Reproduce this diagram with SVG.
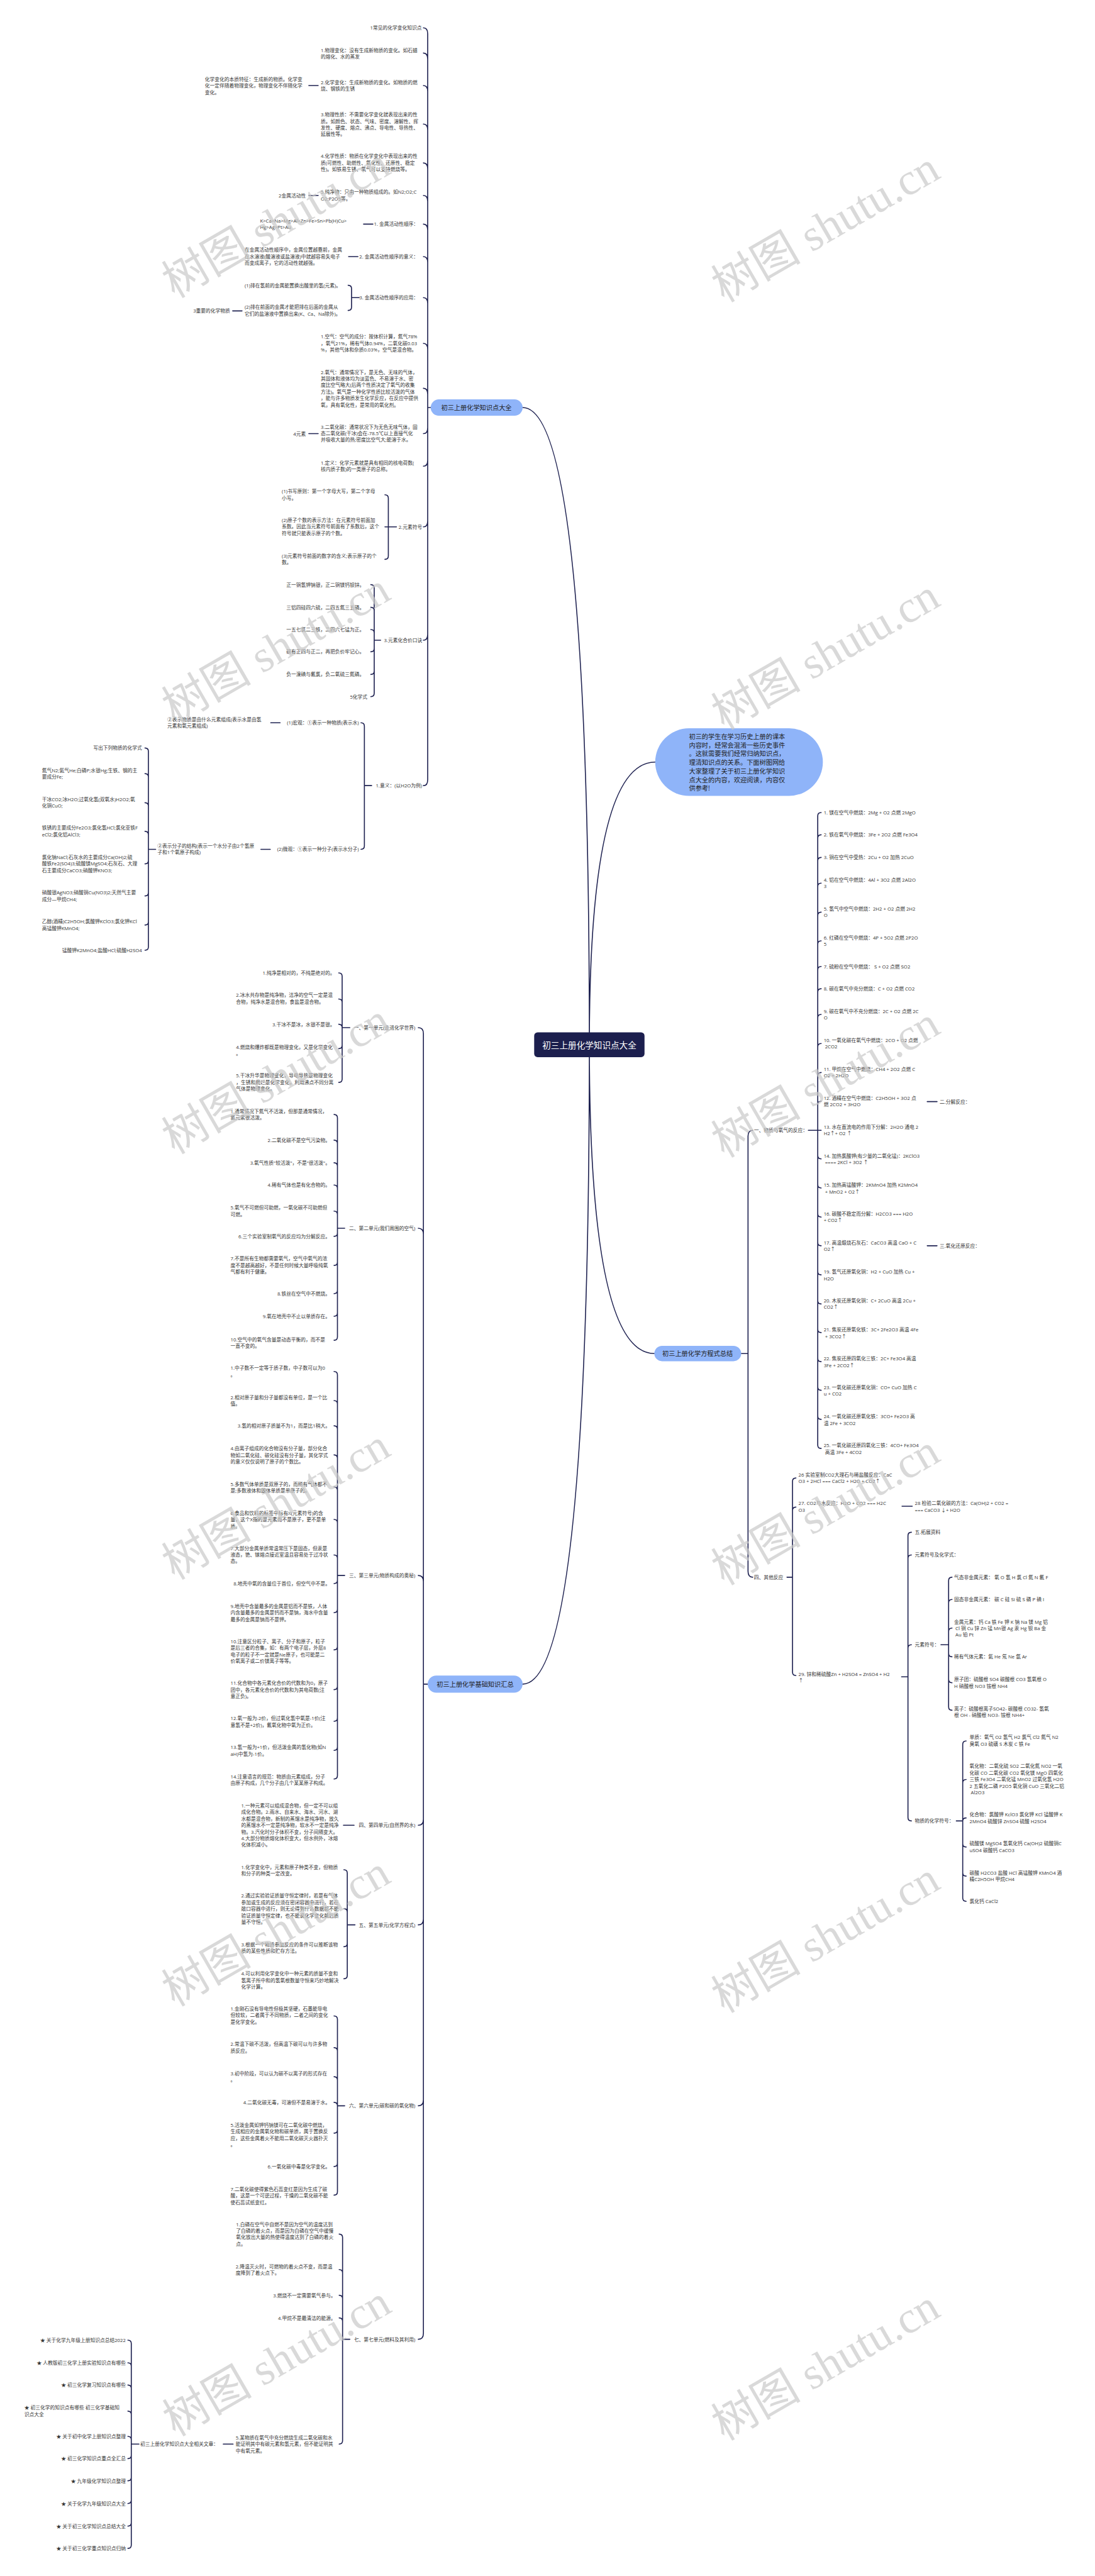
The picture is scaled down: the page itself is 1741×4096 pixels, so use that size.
<svg xmlns="http://www.w3.org/2000/svg" width="1741" height="4096" viewBox="0 0 1741 4096">
<style>
.t{font-family:"Open Sans","Noto Sans CJK SC",sans-serif;font-size:11.4px;fill:#333333;dominant-baseline:central}
.e{text-anchor:end}
.c{fill:none;stroke:#1f2251;stroke-width:2.4;stroke-linecap:round;stroke-linejoin:round}
.bn{fill:#8fb4f9}
.bt{font-family:"Open Sans","Noto Sans CJK SC",sans-serif;font-size:15px;fill:#222222;dominant-baseline:central;text-anchor:middle}
.it{font-family:"Open Sans","Noto Sans CJK SC",sans-serif;font-size:15px;fill:#222222;dominant-baseline:central}
.wm{font-family:"Liberation Serif","Noto Sans CJK SC",serif;font-size:105px;fill:#c9c9c9;fill-opacity:0.7;text-anchor:middle;dominant-baseline:central}
</style>
<g transform="scale(0.68)">
<rect x="0" y="0" width="2560" height="6023" fill="#ffffff"/>
<g id="connectors">
<path class="c" d="M1378 2443Q1378 953 1222 953M1378 2443Q1378 3938 1222 3938M1378 2443Q1378 1782 1532 1782M1378 2443Q1378 3165 1530 3165"/>
<path class="c" d="M1007 953H1000V79Q1000 65 990 65M1000 953V138Q1000 124 990 124M1000 953V214Q1000 200 990 200M1000 953V304Q1000 290 990 290M1000 953V395Q1000 381 990 381M1000 953V471Q1000 457 990 457M1000 953V538Q1000 524 990 524M1000 953V614Q1000 600 990 600M1000 953V710Q1000 696 990 696M1000 953V817Q1000 803 990 803M1000 953V922Q1000 908 990 908M1000 953V1000Q1000 1014 990 1014M1000 953V1076Q1000 1090 990 1090M1000 953V1218Q1000 1232 990 1232M1000 953V1483Q1000 1497 990 1497M1000 953V1823Q1000 1837 990 1837"/>
<path class="c" d="M1000 3938H990V2417Q990 2403 978 2403M990 3938V2886Q990 2872 978 2872M990 3938V3698Q990 3684 978 3684M990 3938V4254Q990 4268 978 4268M990 3938V4487Q990 4501 978 4501M990 3938V4910Q990 4924 978 4924M990 3938V5456Q990 5470 978 5470"/>
<path class="c" d="M1733 3165H1749V2657Q1749 2643 1760 2643M1749 3165V3674Q1749 3688 1760 3688"/>
<path class="c" d="M744 200H722M744 457H722M872 524H850M837 600H815M566 727H544M744 1014H722M655 1690H633M632 1986H610M828 4268H803M545 5715H522M2168 2576H2191M2168 2913H2191M2109 3522H2133"/>
<path class="c" d="M840 696H822V675Q822 667 814 667M840 696H822V718Q822 726 814 726"/>
<path class="c" d="M927 1232H908V1165Q908 1157 900 1157M927 1232H900M927 1232H908V1300Q908 1308 900 1308"/>
<path class="c" d="M890 1497H875V1375Q875 1367 867 1367M875 1497V1428Q875 1420 867 1420M875 1497V1480Q875 1472 867 1472M875 1497V1516Q875 1524 867 1524M875 1497V1569Q875 1577 867 1577M875 1497V1621Q875 1629 867 1629"/>
<path class="c" d="M869 1837H852V1698Q852 1690 844 1690M852 1837V1978Q852 1986 844 1986"/>
<path class="c" d="M364 1986H347V1757Q347 1749 339 1749M347 1986V1817Q347 1809 339 1809M347 1986V1885Q347 1877 339 1877M347 1986V1952Q347 1944 339 1944M347 1986V2012Q347 2020 339 2020M347 1986V2087Q347 2095 339 2095M347 1986V2155Q347 2163 339 2163M347 1986V2214Q347 2222 339 2222"/>
<path class="c" d="M818 2403H800V2283Q800 2275 792 2275M800 2403V2344Q800 2336 792 2336M800 2403Q800 2395 792 2395M800 2403V2444Q800 2452 792 2452M800 2403V2523Q800 2531 792 2531"/>
<path class="c" d="M806 2872H789V2614Q789 2606 781 2606M789 2872V2674Q789 2666 781 2666M789 2872V2727Q789 2719 781 2719M789 2872V2779Q789 2771 781 2771M789 2872V2840Q789 2832 781 2832M789 2872V2883Q789 2891 781 2891M789 2872V2951Q789 2959 781 2959M789 2872V3017Q789 3025 781 3025M789 2872V3070Q789 3078 781 3078M789 2872V3126Q789 3134 781 3134"/>
<path class="c" d="M806 3684H789V3215Q789 3207 781 3207M789 3684V3283Q789 3275 781 3275M789 3684V3342Q789 3334 781 3334M789 3684V3410Q789 3402 781 3402M789 3684V3485Q789 3477 781 3477M789 3684V3561Q789 3553 781 3553M789 3684V3644Q789 3636 781 3636M789 3684V3695Q789 3703 781 3703M789 3684V3763Q789 3771 781 3771M789 3684V3850Q789 3858 781 3858M789 3684V3943Q789 3951 781 3951M789 3684V4017Q789 4025 781 4025M789 3684V4085Q789 4093 781 4093M789 3684V4152Q789 4160 781 4160"/>
<path class="c" d="M830 4501H812V4380Q812 4372 804 4372M812 4501V4471Q812 4463 804 4463M812 4501V4544Q812 4552 804 4552M812 4501V4619Q812 4627 804 4627"/>
<path class="c" d="M806 4924H789V4722Q789 4714 781 4714M789 4924V4796Q789 4788 781 4788M789 4924V4864Q789 4856 781 4856M789 4924Q789 4916 781 4916M789 4924V4980Q789 4988 781 4988M789 4924V5058Q789 5066 781 5066M789 4924V5125Q789 5133 781 5133"/>
<path class="c" d="M818 5470H801V5232Q801 5224 793 5224M801 5470V5315Q801 5307 793 5307M801 5470V5375Q801 5367 793 5367M801 5470V5428Q801 5420 793 5420M801 5470V5707Q801 5715 793 5715"/>
<path class="c" d="M325 5715H307V5480Q307 5472 299 5472M307 5715V5533Q307 5525 299 5525M307 5715V5585Q307 5577 299 5577M307 5715V5646Q307 5638 299 5638M307 5715V5705Q307 5697 299 5697M307 5715V5741Q307 5749 299 5749M307 5715V5793Q307 5801 299 5801M307 5715V5846Q307 5854 299 5854M307 5715V5899Q307 5907 299 5907M307 5715V5951Q307 5959 299 5959"/>
<path class="c" d="M1890 2643H1912V1908Q1912 1900 1920 1900M1912 2643V1960Q1912 1952 1920 1952M1912 2643V2013Q1912 2005 1920 2005M1912 2643V2073Q1912 2065 1920 2065M1912 2643V2141Q1912 2133 1920 2133M1912 2643V2208Q1912 2200 1920 2200M1912 2643V2268Q1912 2260 1920 2260M1912 2643V2320Q1912 2312 1920 2312M1912 2643V2380Q1912 2372 1920 2372M1912 2643V2448Q1912 2440 1920 2440M1912 2643V2516Q1912 2508 1920 2508M1912 2643V2583Q1912 2575 1920 2575M1912 2643H1920M1912 2643V2702Q1912 2710 1920 2710M1912 2643V2770Q1912 2778 1920 2778M1912 2643V2838Q1912 2846 1920 2846M1912 2643V2905Q1912 2913 1920 2913M1912 2643V2973Q1912 2981 1920 2981M1912 2643V3041Q1912 3049 1920 3049M1912 2643V3108Q1912 3116 1920 3116M1912 2643V3176Q1912 3184 1920 3184M1912 2643V3243Q1912 3251 1920 3251M1912 2643V3311Q1912 3319 1920 3319M1912 2643V3379Q1912 3387 1920 3387"/>
<path class="c" d="M1840 3688H1853V3464Q1853 3456 1861 3456M1853 3688V3532Q1853 3524 1861 3524M1853 3688V3910Q1853 3918 1861 3918"/>
<path class="c" d="M2108 3921H2123V3591Q2123 3583 2131 3583M2123 3921V3644Q2123 3636 2131 3636M2123 3921V3854Q2123 3846 2131 3846M2123 3921V4250Q2123 4258 2131 4258"/>
<path class="c" d="M2200 3846H2218V3696Q2218 3688 2226 3688M2218 3846V3748Q2218 3740 2226 3740M2218 3846V3815Q2218 3807 2226 3807M2218 3846V3866Q2218 3874 2226 3874M2218 3846V3927Q2218 3935 2226 3935M2218 3846V3991Q2218 3999 2226 3999"/>
<path class="c" d="M2236 4258H2251V4079Q2251 4071 2259 4071M2251 4258V4169Q2251 4161 2259 4161M2251 4258Q2251 4251 2259 4251M2251 4258V4311Q2251 4319 2259 4319M2251 4258V4379Q2251 4387 2259 4387M2251 4258V4438Q2251 4446 2259 4446"/>
</g>
<g id="root"><rect x="1249" y="2414" width="258" height="58" rx="8" fill="#1c1f4e"/><text x="1378" y="2443" class="bt" style="fill:#ffffff;font-size:20px">初三上册化学知识点大全</text></g>
<g id="intro"><rect x="1532" y="1703" width="392" height="158" rx="79" class="bn"/>
<text class="it" x="1611" y="1722"><tspan x="1611" dy="0">初三的学生在学习历史上册的课本</tspan><tspan x="1611" dy="20.2">内容时，经常会混淆一些历史事件</tspan><tspan x="1611" dy="20.2">。这就需要我们经常归纳知识点，</tspan><tspan x="1611" dy="20.2">理清知识点的关系。下面树图网给</tspan><tspan x="1611" dy="20.2">大家整理了关于初三上册化学知识</tspan><tspan x="1611" dy="20.2">点大全的内容，欢迎阅读，内容仅</tspan><tspan x="1611" dy="20.2">供参考!</tspan></text></g>
<g id="branch1"><rect x="1007" y="934" width="215" height="38" rx="19" class="bn"/><text x="1114" y="953" class="bt">初三上册化学知识点大全</text></g>
<g id="branch2"><rect x="1530" y="3147" width="203" height="36" rx="18" class="bn"/><text x="1631" y="3165" class="bt">初三上册化学方程式总结</text></g>
<g id="branch3"><rect x="1000" y="3918" width="222" height="40" rx="20" class="bn"/><text x="1111" y="3938" class="bt">初三上册化学基础知识汇总</text></g>
<g id="k1"><text class="t e" x="986" y="65">1常见的化学变化知识点</text></g>
<g id="k2"><text class="t" x="750" y="117"><tspan x="750" dy="0">1.物理变化：没有生成新物质的变化。如石蜡</tspan><tspan x="750" dy="15.3">的熔化、水的蒸发</tspan></text></g>
<g id="k3"><text class="t" x="750" y="192"><tspan x="750" dy="0">2.化学变化：生成新物质的变化。如物质的燃</tspan><tspan x="750" dy="15.3">烧、钢铁的生锈</tspan></text></g>
<g id="k3a"><text class="t" x="479" y="185"><tspan x="479" dy="0">化学变化的本质特征：生成新的物质。化学变</tspan><tspan x="479" dy="15.3">化一定伴随着物理变化，物理变化不伴随化学</tspan><tspan x="479" dy="15.3">变化。</tspan></text></g>
<g id="k4"><text class="t" x="750" y="268"><tspan x="750" dy="0">3.物理性质：不需要化学变化就表现出来的性</tspan><tspan x="750" dy="15.3">质。如颜色、状态、气味、密度、溶解性、挥</tspan><tspan x="750" dy="15.3">发性、硬度、熔点、沸点、导电性、导热性、</tspan><tspan x="750" dy="15.3">延展性等。</tspan></text></g>
<g id="k5"><text class="t" x="750" y="365"><tspan x="750" dy="0">4.化学性质：物质在化学变化中表现出来的性</tspan><tspan x="750" dy="15.3">质(可燃性、助燃性、氧化性、还原性、稳定</tspan><tspan x="750" dy="15.3">性)。如铁易生锈、氧气可以支持燃烧等。</tspan></text></g>
<g id="k6"><text class="t" x="750" y="449"><tspan x="750" dy="0">5.纯净物：只由一种物质组成的。如N2;O2;C</tspan><tspan x="750" dy="15.3">O2;P2O5等。</tspan></text></g>
<g id="k6a"><text class="t e" x="715" y="457">2金属活动性</text></g>
<g id="k7"><text class="t e" x="978" y="524">1. 金属活动性顺序：</text></g>
<g id="k7a"><text class="t" x="608" y="516"><tspan x="608" dy="0">K&gt;Ca&gt;Na&gt;Mg&gt;Al&gt;Zn&gt;Fe&gt;Sn&gt;Pb(H)Cu&gt;</tspan><tspan x="608" dy="15.3">Hg&gt;Ag&gt;Pt&gt;Au</tspan></text></g>
<g id="k8"><text class="t e" x="978" y="600">2. 金属活动性顺序的意义：</text></g>
<g id="k8a"><text class="t" x="572" y="584"><tspan x="572" dy="0">在金属活动性顺序中，金属位置越靠前，金属</tspan><tspan x="572" dy="15.3">在水溶液(酸溶液或盐溶液)中就越容易失电子</tspan><tspan x="572" dy="15.3">而变成离子，它的活动性就越强。</tspan></text></g>
<g id="k9"><text class="t e" x="978" y="696">3. 金属活动性顺序的应用：</text></g>
<g id="k9a"><text class="t" x="572" y="667">(1)排在氢前的金属能置换出酸里的氢(元素)。</text></g>
<g id="k9b"><text class="t" x="572" y="718"><tspan x="572" dy="0">(2)排在前面的金属才能把排在后面的金属从</tspan><tspan x="572" dy="15.3">它们的盐溶液中置换出来(K、Ca、Na除外)。</tspan></text></g>
<g id="k9c"><text class="t e" x="538" y="727">3重要的化学物质</text></g>
<g id="k10"><text class="t" x="750" y="787"><tspan x="750" dy="0">1.空气：空气的成分：按体积计算，氮气78%</tspan><tspan x="750" dy="15.3">，氧气21%，稀有气体0.94%，二氧化碳0.03</tspan><tspan x="750" dy="15.3">%，其他气体和杂质0.03%，空气是混合物。</tspan></text></g>
<g id="k11"><text class="t" x="750" y="870"><tspan x="750" dy="0">2.氧气：通常情况下，是无色、无味的气体，</tspan><tspan x="750" dy="15.3">其固体和液体均为淡蓝色、不易溶于水、密</tspan><tspan x="750" dy="15.3">度比空气略大(后两个性质决定了氧气的收集</tspan><tspan x="750" dy="15.3">方法)。氧气是一种化学性质比较活泼的气体</tspan><tspan x="750" dy="15.3">，能与许多物质发生化学反应，在反应中提供</tspan><tspan x="750" dy="15.3">氧，具有氧化性，是常用的氧化剂。</tspan></text></g>
<g id="k12"><text class="t" x="750" y="998"><tspan x="750" dy="0">3.二氧化碳：通常状况下为无色无味气体，固</tspan><tspan x="750" dy="15.3">态二氧化碳(干冰)会在-78.5℃以上直接气化</tspan><tspan x="750" dy="15.3">并吸收大量的热;密度比空气大;能溶于水。</tspan></text></g>
<g id="k12a"><text class="t e" x="715" y="1014">4元素</text></g>
<g id="k13"><text class="t" x="750" y="1082"><tspan x="750" dy="0">1.定义：化学元素就是具有相同的核电荷数(</tspan><tspan x="750" dy="15.3">核内质子数)的一类原子的总称。</tspan></text></g>
<g id="k14"><text class="t e" x="987" y="1232">2.元素符号</text></g>
<g id="k14a"><text class="t" x="659" y="1149"><tspan x="659" dy="0">(1)书写原则：第一个字母大写，第二个字母</tspan><tspan x="659" dy="15.3">小写。</tspan></text></g>
<g id="k14b"><text class="t" x="659" y="1216"><tspan x="659" dy="0">(2)原子个数的表示方法：在元素符号前面加</tspan><tspan x="659" dy="15.3">系数。因此当元素符号前面有了系数后，这个</tspan><tspan x="659" dy="15.3">符号就只能表示原子的个数。</tspan></text></g>
<g id="k14c"><text class="t" x="659" y="1300"><tspan x="659" dy="0">(3)元素符号前面的数字的含义;表示原子的个</tspan><tspan x="659" dy="15.3">数。</tspan></text></g>
<g id="k15"><text class="t e" x="987" y="1497">3.元素化合价口诀</text></g>
<g id="k15a"><text class="t e" x="852" y="1367">正一铜氢钾钠银，正二铜镁钙钡锌。</text></g>
<g id="k15b"><text class="t e" x="852" y="1420">三铝四硅四六硫，二四五氮三五磷。</text></g>
<g id="k15c"><text class="t e" x="852" y="1472">一五七氯二三铁，二四六七锰为正。</text></g>
<g id="k15d"><text class="t e" x="852" y="1524">碳有正四与正二，再把负价牢记心。</text></g>
<g id="k15e"><text class="t e" x="852" y="1577">负一溴碘与氟氯，负二氧硫三氮磷。</text></g>
<g id="k15f"><text class="t e" x="859" y="1629">5化学式</text></g>
<g id="k16"><text class="t e" x="987" y="1837">1.意义：(以H2O为例)</text></g>
<g id="k16a"><text class="t e" x="839" y="1690">(1)宏观：①表示一种物质(表示水)</text></g>
<g id="k16b"><text class="t" x="391" y="1682"><tspan x="391" dy="0">②表示物质是由什么元素组成(表示水是由氢</tspan><tspan x="391" dy="15.3">元素和氧元素组成)</tspan></text></g>
<g id="k16c"><text class="t e" x="839" y="1986">(2)微观：①表示一种分子(表示水分子)</text></g>
<g id="k16d"><text class="t" x="368" y="1978"><tspan x="368" dy="0">②表示分子的结构(表示一个水分子由2个氢原</tspan><tspan x="368" dy="15.3">子和1个氧原子构成)</tspan></text></g>
<g id="f1"><text class="t e" x="332" y="1749">写出下列物质的化学式</text></g>
<g id="f2"><text class="t" x="98" y="1801"><tspan x="98" dy="0">氮气N2;氦气He;白磷P;水银Hg;生铁、钢的主</tspan><tspan x="98" dy="15.3">要成分Fe;</tspan></text></g>
<g id="f3"><text class="t" x="98" y="1869"><tspan x="98" dy="0">干冰CO2;冰H2O;过氧化氢(双氧水)H2O2;氧</tspan><tspan x="98" dy="15.3">化铜CuO;</tspan></text></g>
<g id="f4"><text class="t" x="98" y="1936"><tspan x="98" dy="0">铁锈的主要成分Fe2O3;氯化氢HCl;氯化亚铁F</tspan><tspan x="98" dy="15.3">eCl2;氯化铝AlCl3;</tspan></text></g>
<g id="f5"><text class="t" x="98" y="2004"><tspan x="98" dy="0">氯化钠NaCl;石灰水的主要成分Ca(OH)2;硫</tspan><tspan x="98" dy="15.3">酸铁Fe2(SO4)3;硫酸镁MgSO4;石灰石、大理</tspan><tspan x="98" dy="15.3">石主要成分CaCO3;硝酸钾KNO3;</tspan></text></g>
<g id="f6"><text class="t" x="98" y="2087"><tspan x="98" dy="0">硝酸银AgNO3;硝酸铜Cu(NO3)2;天然气主要</tspan><tspan x="98" dy="15.3">成分—甲烷CH4;</tspan></text></g>
<g id="f7"><text class="t" x="98" y="2155"><tspan x="98" dy="0">乙醇(酒精)C2H5OH;氯酸钾KClO3;氯化钾KCl</tspan><tspan x="98" dy="15.3">高锰酸钾KMnO4;</tspan></text></g>
<g id="f8"><text class="t e" x="332" y="2222">锰酸钾K2MnO4;盐酸HCl;硫酸H2SO4</text></g>
<g id="u1"><text class="t e" x="971" y="2403">一、第一单元(走进化学世界)</text></g>
<g id="u1a"><text class="t e" x="783" y="2275">1.纯净是相对的，不纯是绝对的。</text></g>
<g id="u1b"><text class="t" x="552" y="2327"><tspan x="552" dy="0">2.冰水共存物是纯净物，洁净的空气一定是混</tspan><tspan x="552" dy="15.3">合物，纯净水是混合物，食盐是混合物。</tspan></text></g>
<g id="u1c"><text class="t e" x="783" y="2395">3.干冰不是冰，水银不是银。</text></g>
<g id="u1d"><text class="t" x="552" y="2448"><tspan x="552" dy="0">4.燃烧和爆炸都既是物理变化，又是化学变化</tspan><tspan x="552" dy="15.3">。</tspan></text></g>
<g id="u1e"><text class="t" x="552" y="2515"><tspan x="552" dy="0">5.干冰升华是物理变化，导电导热是物理变化</tspan><tspan x="552" dy="15.3">，生锈和腐烂是化学变化，利用沸点不同分离</tspan><tspan x="552" dy="15.3">气体是物理变化。</tspan></text></g>
<g id="u2"><text class="t e" x="971" y="2872">二、第二单元(我们周围的空气)</text></g>
<g id="u2a"><text class="t" x="539" y="2598"><tspan x="539" dy="0">1.通常情况下氮气不活泼，但那是通常情况，</tspan><tspan x="539" dy="15.3">氮元素很活泼。</tspan></text></g>
<g id="u2b"><text class="t e" x="772" y="2666">2.二氧化碳不是空气污染物。</text></g>
<g id="u2c"><text class="t e" x="772" y="2719">3.氧气性质"较活泼"，不是"很活泼"。</text></g>
<g id="u2d"><text class="t e" x="772" y="2771">4.稀有气体也是有化合物的。</text></g>
<g id="u2e"><text class="t" x="539" y="2824"><tspan x="539" dy="0">5.氧气不可燃但可助燃，一氧化碳不可助燃但</tspan><tspan x="539" dy="15.3">可燃。</tspan></text></g>
<g id="u2f"><text class="t e" x="772" y="2891">6.三个实验室制氧气的反应均为分解反应。</text></g>
<g id="u2g"><text class="t" x="539" y="2943"><tspan x="539" dy="0">7.不是所有生物都需要氧气，空气中氧气的浓</tspan><tspan x="539" dy="15.3">度不是越高越好，不是任何时候大量呼吸纯氧</tspan><tspan x="539" dy="15.3">气都有利于健康。</tspan></text></g>
<g id="u2h"><text class="t e" x="772" y="3025">8.铁丝在空气中不燃烧。</text></g>
<g id="u2i"><text class="t e" x="772" y="3078">9.氧在地壳中不止以单质存在。</text></g>
<g id="u2j"><text class="t" x="539" y="3132"><tspan x="539" dy="0">10.空气中的氧气含量是动态平衡的，而不是</tspan><tspan x="539" dy="15.3">一直不变的。</tspan></text></g>
<g id="u3"><text class="t e" x="971" y="3684">三、第三单元(物质构成的奥秘)</text></g>
<g id="u3a"><text class="t" x="539" y="3199"><tspan x="539" dy="0">1.中子数不一定等于质子数，中子数可以为0</tspan><tspan x="539" dy="15.3">。</tspan></text></g>
<g id="u3b"><text class="t" x="539" y="3267"><tspan x="539" dy="0">2.相对原子量和分子量都没有单位，是一个比</tspan><tspan x="539" dy="15.3">值。</tspan></text></g>
<g id="u3c"><text class="t e" x="772" y="3334">3.氢的相对原子质量不为1，而是比1稍大。</text></g>
<g id="u3d"><text class="t" x="539" y="3387"><tspan x="539" dy="0">4.由离子组成的化合物没有分子量，部分化合</tspan><tspan x="539" dy="15.3">物如二氧化硅、碳化硅没有分子量，其化学式</tspan><tspan x="539" dy="15.3">的意义仅仅说明了原子的个数比。</tspan></text></g>
<g id="u3e"><text class="t" x="539" y="3470"><tspan x="539" dy="0">5.多数气体单质是双原子的，而稀有气体都不</tspan><tspan x="539" dy="15.3">是;多数液体和固体单质是单原子的。</tspan></text></g>
<g id="u3f"><text class="t" x="539" y="3538"><tspan x="539" dy="0">6.食品和饮料的标签中标有X(元素符号)的含</tspan><tspan x="539" dy="15.3">量，这个X指的是元素而不是原子，更不是单</tspan><tspan x="539" dy="15.3">质。</tspan></text></g>
<g id="u3g"><text class="t" x="539" y="3620"><tspan x="539" dy="0">7.大部分金属单质常温常压下是固态，但汞是</tspan><tspan x="539" dy="15.3">液态，铯、镓熔点接近室温且容易处于过冷状</tspan><tspan x="539" dy="15.3">态。</tspan></text></g>
<g id="u3h"><text class="t e" x="772" y="3703">8.地壳中氧的含量位于首位，但空气中不是。</text></g>
<g id="u3i"><text class="t" x="539" y="3756"><tspan x="539" dy="0">9.地壳中含量最多的金属是铝而不是铁，人体</tspan><tspan x="539" dy="15.3">内含量最多的金属是钙而不是钠，海水中含量</tspan><tspan x="539" dy="15.3">最多的金属是钠而不是钾。</tspan></text></g>
<g id="u3j"><text class="t" x="539" y="3838"><tspan x="539" dy="0">10.注意区分粒子、离子、分子和原子，粒子</tspan><tspan x="539" dy="15.3">是后三者的合集，如：有两个电子层，外层8</tspan><tspan x="539" dy="15.3">电子的粒子不一定就是Ne原子，也可能是二</tspan><tspan x="539" dy="15.3">价氧离子或二价镁离子等等。</tspan></text></g>
<g id="u3k"><text class="t" x="539" y="3936"><tspan x="539" dy="0">11.化合物中各元素化合价的代数和为0，原子</tspan><tspan x="539" dy="15.3">团中，各元素化合价的代数和为其电荷数(注</tspan><tspan x="539" dy="15.3">意正负)。</tspan></text></g>
<g id="u3l"><text class="t" x="539" y="4018"><tspan x="539" dy="0">12.氧一般为-2价，但过氧化氢中氧是-1价(注</tspan><tspan x="539" dy="15.3">意氢不是+2价)，氟氧化物中氧为正价。</tspan></text></g>
<g id="u3m"><text class="t" x="539" y="4086"><tspan x="539" dy="0">13.氢一般为+1价，但活泼金属的氢化物(如N</tspan><tspan x="539" dy="15.3">aH)中氢为-1价。</tspan></text></g>
<g id="u3n"><text class="t" x="539" y="4154"><tspan x="539" dy="0">14.注意语言的规范：物质由元素组成，分子</tspan><tspan x="539" dy="15.3">由原子构成，几个分子由几个某某原子构成。</tspan></text></g>
<g id="u4"><text class="t e" x="971" y="4268">四、第四单元(自然界的水)</text></g>
<g id="u4a"><text class="t" x="564" y="4222"><tspan x="564" dy="0">1.一种元素可以组成混合物，但一定不可以组</tspan><tspan x="564" dy="15.3">成化合物。2.雨水、自来水、海水、河水、湖</tspan><tspan x="564" dy="15.3">水都是混合物，新制的蒸馏水是纯净物，放久</tspan><tspan x="564" dy="15.3">的蒸馏水不一定是纯净物，软水不一定是纯净</tspan><tspan x="564" dy="15.3">物。3.汽化时分子体积不变，分子间隔变大。</tspan><tspan x="564" dy="15.3">4.大部分物质熔化体积变大，但水例外，冰熔</tspan><tspan x="564" dy="15.3">化体积减小。</tspan></text></g>
<g id="u5"><text class="t e" x="971" y="4501">五、第五单元(化学方程式)</text></g>
<g id="u5a"><text class="t" x="564" y="4366"><tspan x="564" dy="0">1.化学变化中，元素和原子种类不变，但物质</tspan><tspan x="564" dy="15.3">和分子的种类一定改变。</tspan></text></g>
<g id="u5b"><text class="t" x="564" y="4433"><tspan x="564" dy="0">2.通过实验验证质量守恒定律时，若是有气体</tspan><tspan x="564" dy="15.3">参加或生成的反应须在密闭容器中进行，若在</tspan><tspan x="564" dy="15.3">敞口容器中进行，则无论得到什么数据都不能</tspan><tspan x="564" dy="15.3">验证质量守恒定律，也不能说化学变化前后质</tspan><tspan x="564" dy="15.3">量不守恒。</tspan></text></g>
<g id="u5c"><text class="t" x="564" y="4547"><tspan x="564" dy="0">3.根据一个物质参加反应的条件可以推断该物</tspan><tspan x="564" dy="15.3">质的某些性质和贮存方法。</tspan></text></g>
<g id="u5d"><text class="t" x="564" y="4615"><tspan x="564" dy="0">4.可以利用化学变化中一种元素的质量不变和</tspan><tspan x="564" dy="15.3">氢离子所中和的氢氧根数量守恒来巧妙地解决</tspan><tspan x="564" dy="15.3">化学计算。</tspan></text></g>
<g id="u6"><text class="t e" x="971" y="4924">六、第六单元(碳和碳的氧化物)</text></g>
<g id="u6a"><text class="t" x="539" y="4697"><tspan x="539" dy="0">1.金刚石没有导电性但极其坚硬，石墨能导电</tspan><tspan x="539" dy="15.3">但较软，二者属于不同物质，二者之间的变化</tspan><tspan x="539" dy="15.3">是化学变化。</tspan></text></g>
<g id="u6b"><text class="t" x="539" y="4780"><tspan x="539" dy="0">2.常温下碳不活泼，但高温下碳可以与许多物</tspan><tspan x="539" dy="15.3">质反应。</tspan></text></g>
<g id="u6c"><text class="t" x="539" y="4848"><tspan x="539" dy="0">3.初中阶段，可以认为碳不以离子的形式存在</tspan><tspan x="539" dy="15.3">。</tspan></text></g>
<g id="u6d"><text class="t e" x="772" y="4916">4.二氧化碳无毒，可溶但不是易溶于水。</text></g>
<g id="u6e"><text class="t" x="539" y="4969"><tspan x="539" dy="0">5.活泼金属如钾钙钠镁可在二氧化碳中燃烧，</tspan><tspan x="539" dy="15.3">生成相应的金属氧化物和碳单质，属于置换反</tspan><tspan x="539" dy="15.3">应，这些金属着火不能用二氧化碳灭火器扑灭</tspan><tspan x="539" dy="15.3">。</tspan></text></g>
<g id="u6f"><text class="t e" x="772" y="5066">6.一氧化碳中毒是化学变化。</text></g>
<g id="u6g"><text class="t" x="539" y="5119"><tspan x="539" dy="0">7.二氧化碳使得紫色石蕊变红是因为生成了碳</tspan><tspan x="539" dy="15.3">酸，这是一个可逆过程，干燥的二氧化碳不能</tspan><tspan x="539" dy="15.3">使石蕊试纸变红。</tspan></text></g>
<g id="u7"><text class="t e" x="971" y="5470">七、第七单元(燃料及其利用)</text></g>
<g id="u7a"><text class="t" x="552" y="5201"><tspan x="552" dy="0">1.白磷在空气中自燃不是因为空气的温度达到</tspan><tspan x="552" dy="15.3">了白磷的着火点，而是因为白磷在空气中缓慢</tspan><tspan x="552" dy="15.3">氧化放出大量的热使得温度达到了白磷的着火</tspan><tspan x="552" dy="15.3">点。</tspan></text></g>
<g id="u7b"><text class="t" x="551" y="5300"><tspan x="551" dy="0">2.降温灭火时，可燃物的着火点不变，而是温</tspan><tspan x="551" dy="15.3">度降到了着火点下。</tspan></text></g>
<g id="u7c"><text class="t e" x="785" y="5367">3.燃烧不一定需要氧气参与。</text></g>
<g id="u7d"><text class="t e" x="785" y="5420">4.甲烷不是最清洁的能源。</text></g>
<g id="u7e"><text class="t" x="551" y="5700"><tspan x="551" dy="0">5.某物质在氧气中充分燃烧生成二氧化碳和水</tspan><tspan x="551" dy="15.3">能证明其中有碳元素和氢元素，但不能证明其</tspan><tspan x="551" dy="15.3">中有氧元素。</tspan></text></g>
<g id="rel"><text class="t" x="328" y="5715">初三上册化学知识点大全相关文章：</text></g>
<g id="s1"><text class="t e" x="294" y="5472">★ 关于化学九年级上册知识点总结2022</text></g>
<g id="s2"><text class="t e" x="294" y="5525">★ 人教版初三化学上册实验知识点有哪些</text></g>
<g id="s3"><text class="t e" x="294" y="5577">★ 初三化学复习知识点有哪些</text></g>
<g id="s4"><text class="t" x="57" y="5630"><tspan x="57" dy="0">★ 初三化学的知识点有哪些 初三化学基础知</tspan><tspan x="57" dy="15.3">识点大全</tspan></text></g>
<g id="s5"><text class="t e" x="294" y="5697">★ 关于初中化学上册知识点整理</text></g>
<g id="s6"><text class="t e" x="294" y="5749">★ 初三化学知识点重点全汇总</text></g>
<g id="s7"><text class="t e" x="294" y="5801">★ 九年级化学知识点整理</text></g>
<g id="s8"><text class="t e" x="294" y="5854">★ 关于化学九年级知识点大全</text></g>
<g id="s9"><text class="t e" x="294" y="5907">★ 关于初三化学知识点总结大全</text></g>
<g id="s10"><text class="t e" x="294" y="5959">★ 关于初三化学重点知识点归纳</text></g>
<g id="r1"><text class="t" x="1763" y="2643">一、物质与氧气的反应：</text></g>
<g id="e1"><text class="t" x="1926" y="1900">1. 镁在空气中燃烧：2Mg + O2 点燃 2MgO</text></g>
<g id="e2"><text class="t" x="1926" y="1952">2. 铁在氧气中燃烧：3Fe + 2O2 点燃 Fe3O4</text></g>
<g id="e3"><text class="t" x="1926" y="2005">3. 铜在空气中受热：2Cu + O2 加热 2CuO</text></g>
<g id="e4"><text class="t" x="1926" y="2057"><tspan x="1926" dy="0">4. 铝在空气中燃烧：4Al + 3O2 点燃 2Al2O</tspan><tspan x="1926" dy="15.3">3</tspan></text></g>
<g id="e5"><text class="t" x="1926" y="2125"><tspan x="1926" dy="0">5. 氢气中空气中燃烧：2H2 + O2 点燃 2H2</tspan><tspan x="1926" dy="15.3">O</tspan></text></g>
<g id="e6"><text class="t" x="1926" y="2192"><tspan x="1926" dy="0">6. 红磷在空气中燃烧：4P + 5O2 点燃 2P2O</tspan><tspan x="1926" dy="15.3">5</tspan></text></g>
<g id="e7"><text class="t" x="1926" y="2260">7. 硫粉在空气中燃烧： S + O2 点燃 SO2</text></g>
<g id="e8"><text class="t" x="1926" y="2312">8. 碳在氧气中充分燃烧：C + O2 点燃 CO2</text></g>
<g id="e9"><text class="t" x="1926" y="2364"><tspan x="1926" dy="0">9. 碳在氧气中不充分燃烧：2C + O2 点燃 2C</tspan><tspan x="1926" dy="15.3">O</tspan></text></g>
<g id="e10"><text class="t" x="1926" y="2432"><tspan x="1926" dy="0">10. 一氧化碳在氧气中燃烧：2CO + O2 点燃</tspan><tspan x="1926" dy="15.3"> 2CO2</tspan></text></g>
<g id="e11"><text class="t" x="1926" y="2500"><tspan x="1926" dy="0">11. 甲烷在空气中燃烧：CH4 + 2O2 点燃 C</tspan><tspan x="1926" dy="15.3">O2 + 2H2O</tspan></text></g>
<g id="e12"><text class="t" x="1926" y="2567"><tspan x="1926" dy="0">12. 酒精在空气中燃烧：C2H5OH + 3O2 点</tspan><tspan x="1926" dy="15.3">燃 2CO2 + 3H2O</tspan></text></g>
<g id="r2"><text class="t" x="2197" y="2576">二.分解反应：</text></g>
<g id="e13"><text class="t" x="1926" y="2635"><tspan x="1926" dy="0">13. 水在直流电的作用下分解：2H2O 通电 2</tspan><tspan x="1926" dy="15.3">H2↑+ O2 ↑</tspan></text></g>
<g id="e14"><text class="t" x="1926" y="2703"><tspan x="1926" dy="0">14. 加热氯酸钾(有少量的二氧化锰)：2KClO3</tspan><tspan x="1926" dy="15.3"> ==== 2KCl + 3O2 ↑</tspan></text></g>
<g id="e15"><text class="t" x="1926" y="2771"><tspan x="1926" dy="0">15. 加热高锰酸钾：2KMnO4 加热 K2MnO4</tspan><tspan x="1926" dy="15.3"> + MnO2 + O2↑</tspan></text></g>
<g id="e16"><text class="t" x="1926" y="2838"><tspan x="1926" dy="0">16. 碳酸不稳定而分解：H2CO3 === H2O</tspan><tspan x="1926" dy="15.3">+ CO2↑</tspan></text></g>
<g id="e17"><text class="t" x="1926" y="2906"><tspan x="1926" dy="0">17. 高温煅烧石灰石：CaCO3 高温 CaO + C</tspan><tspan x="1926" dy="15.3">O2↑</tspan></text></g>
<g id="r3"><text class="t" x="2197" y="2913">三.氧化还原反应：</text></g>
<g id="e19"><text class="t" x="1926" y="2974"><tspan x="1926" dy="0">19. 氢气还原氧化铜：H2 + CuO 加热 Cu +</tspan><tspan x="1926" dy="15.3">H2O</tspan></text></g>
<g id="e20"><text class="t" x="1926" y="3041"><tspan x="1926" dy="0">20. 木炭还原氧化铜：C+ 2CuO 高温 2Cu +</tspan><tspan x="1926" dy="15.3">CO2↑</tspan></text></g>
<g id="e21"><text class="t" x="1926" y="3109"><tspan x="1926" dy="0">21. 焦炭还原氧化铁：3C+ 2Fe2O3 高温 4Fe</tspan><tspan x="1926" dy="15.3"> + 3CO2↑</tspan></text></g>
<g id="e22"><text class="t" x="1926" y="3177"><tspan x="1926" dy="0">22. 焦炭还原四氧化三铁：2C+ Fe3O4 高温</tspan><tspan x="1926" dy="15.3">3Fe + 2CO2↑</tspan></text></g>
<g id="e23"><text class="t" x="1926" y="3244"><tspan x="1926" dy="0">23. 一氧化碳还原氧化铜：CO+ CuO 加热 C</tspan><tspan x="1926" dy="15.3">u + CO2</tspan></text></g>
<g id="e24"><text class="t" x="1926" y="3312"><tspan x="1926" dy="0">24. 一氧化碳还原氧化铁：3CO+ Fe2O3 高</tspan><tspan x="1926" dy="15.3">温 2Fe + 3CO2</tspan></text></g>
<g id="e25"><text class="t" x="1926" y="3380"><tspan x="1926" dy="0">25. 一氧化碳还原四氧化三铁：4CO+ Fe3O4</tspan><tspan x="1926" dy="15.3"> 高温 3Fe + 4CO2</tspan></text></g>
<g id="r4"><text class="t" x="1763" y="3688">四、其他反应</text></g>
<g id="e26"><text class="t" x="1867" y="3448"><tspan x="1867" dy="0">26 实验室制CO2大理石与稀盐酸反应：CaC</tspan><tspan x="1867" dy="15.3">O3 + 2HCl === CaCl2 + H2O + CO2↑</tspan></text></g>
<g id="e27"><text class="t" x="1867" y="3515"><tspan x="1867" dy="0">27. CO2与水反应：H2O + CO2 === H2C</tspan><tspan x="1867" dy="15.3">O3</tspan></text></g>
<g id="e28"><text class="t" x="2139" y="3515"><tspan x="2139" dy="0">28 检验二氧化碳的方法：Ca(OH)2 + CO2 =</tspan><tspan x="2139" dy="15.3">=== CaCO3 ↓+ H2O</tspan></text></g>
<g id="e29"><text class="t" x="1867" y="3914"><tspan x="1867" dy="0">29. 锌和稀硫酸Zn + H2SO4 = ZnSO4 + H2</tspan><tspan x="1867" dy="15.3">↑</tspan></text></g>
<g id="x1"><text class="t" x="2139" y="3583">五.拓展资料</text></g>
<g id="x2"><text class="t" x="2139" y="3636">元素符号及化学式：</text></g>
<g id="x3"><text class="t" x="2139" y="3846">元素符号：</text></g>
<g id="x3a"><text class="t" x="2231" y="3688">气态非金属元素： 氧 O 氢 H 氯 Cl 氮 N 氟 F</text></g>
<g id="x3b"><text class="t" x="2231" y="3740">固态非金属元素： 碳 C 硅 Si 硫 S 磷 P 碘 I</text></g>
<g id="x3c"><text class="t" x="2231" y="3792"><tspan x="2231" dy="0">金属元素：钙 Ca 铁 Fe 钾 K 钠 Na 镁 Mg 铝</tspan><tspan x="2231" dy="15.3"> Cl 铜 Cu 锌 Zn 锰 Mn银 Ag 汞 Hg 钡 Ba 金</tspan><tspan x="2231" dy="15.3"> Au 铂 Pt</tspan></text></g>
<g id="x3d"><text class="t" x="2231" y="3874">稀有气体元素：氦 He 氖 Ne 氩 Ar</text></g>
<g id="x3e"><text class="t" x="2231" y="3927"><tspan x="2231" dy="0">原子团：硫酸根 SO4 碳酸根 CO3 氢氧根 O</tspan><tspan x="2231" dy="15.3">H 硝酸根 NO3 铵根 NH4</tspan></text></g>
<g id="x3f"><text class="t" x="2231" y="3995"><tspan x="2231" dy="0">离子：硫酸根离子SO42- 碳酸根 CO32- 氢氧</tspan><tspan x="2231" dy="15.3">根 OH - 硝酸根 NO3- 铵根 NH4+</tspan></text></g>
<g id="x4"><text class="t" x="2139" y="4258">物质的化学符号：</text></g>
<g id="x4a"><text class="t" x="2267" y="4062"><tspan x="2267" dy="0">单质：氧气 O2 氢气 H2 氯气 Cl2 氮气 N2</tspan><tspan x="2267" dy="15.3">臭氧 O3 硫磺 S 木炭 C 铁 Fe</tspan></text></g>
<g id="x4b"><text class="t" x="2267" y="4130"><tspan x="2267" dy="0">氧化物：二氧化硫 SO2 二氧化氮 NO2 一氧</tspan><tspan x="2267" dy="15.3">化碳 CO 二氧化碳 CO2 氧化镁 MgO 四氧化</tspan><tspan x="2267" dy="15.3">三铁 Fe3O4 二氧化锰 MnO2 过氧化氢 H2O</tspan><tspan x="2267" dy="15.3">2 五氧化二磷 P2O5 氧化铜 CuO 三氧化二铝</tspan><tspan x="2267" dy="15.3"> Al2O3</tspan></text></g>
<g id="x4c"><text class="t" x="2267" y="4243"><tspan x="2267" dy="0">化合物：氯酸钾 KclO3 氯化钾 KCl 锰酸钾 K</tspan><tspan x="2267" dy="15.3">2MnO4 硫酸锌 ZnSO4 硫酸 H2SO4</tspan></text></g>
<g id="x4d"><text class="t" x="2267" y="4311"><tspan x="2267" dy="0">硫酸镁 MgSO4 氢氧化钙 Ca(OH)2 硫酸铜C</tspan><tspan x="2267" dy="15.3">uSO4 碳酸钙 CaCO3</tspan></text></g>
<g id="x4e"><text class="t" x="2267" y="4379"><tspan x="2267" dy="0">碳酸 H2CO3 盐酸 HCl 高锰酸钾 KMnO4 酒</tspan><tspan x="2267" dy="15.3">精C2H5OH 甲烷CH4</tspan></text></g>
<g id="x4f"><text class="t" x="2267" y="4446">氯化钙 CaCl2</text></g>
<g id="watermark">
<text class="wm" transform="translate(645 520) rotate(-30)">树图 shutu.cn</text>
<text class="wm" transform="translate(1930 530) rotate(-30)">树图 shutu.cn</text>
<text class="wm" transform="translate(645 1515) rotate(-30)">树图 shutu.cn</text>
<text class="wm" transform="translate(1930 1530) rotate(-30)">树图 shutu.cn</text>
<text class="wm" transform="translate(645 2522) rotate(-30)">树图 shutu.cn</text>
<text class="wm" transform="translate(1930 2530) rotate(-30)">树图 shutu.cn</text>
<text class="wm" transform="translate(645 3517) rotate(-30)">树图 shutu.cn</text>
<text class="wm" transform="translate(1930 3530) rotate(-30)">树图 shutu.cn</text>
<text class="wm" transform="translate(645 4515) rotate(-30)">树图 shutu.cn</text>
<text class="wm" transform="translate(1930 4530) rotate(-30)">树图 shutu.cn</text>
<text class="wm" transform="translate(647 5520) rotate(-30)">树图 shutu.cn</text>
<text class="wm" transform="translate(1930 5530) rotate(-30)">树图 shutu.cn</text>
</g>
</g>
</svg>
